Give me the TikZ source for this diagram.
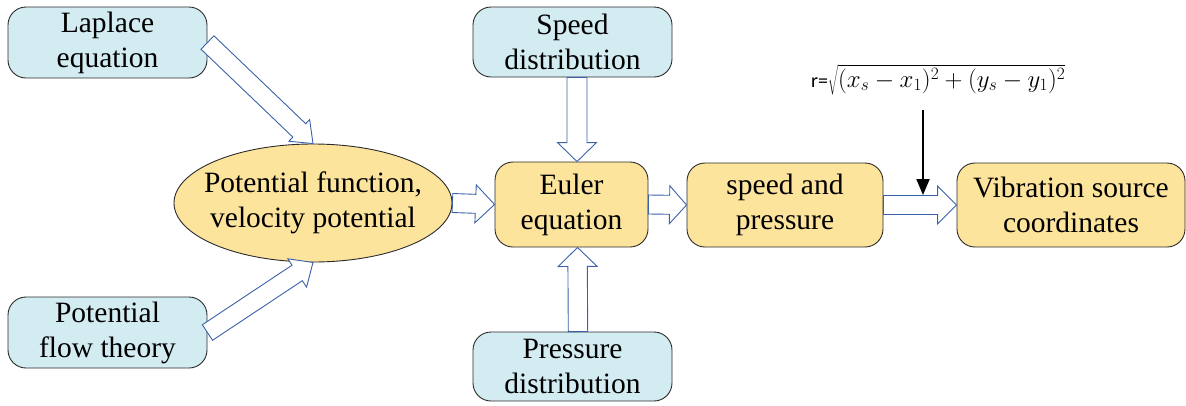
\documentclass[tikz,border=0pt]{standalone}
\usepackage{fontspec}
\setmainfont{Liberation Serif}
\newfontfamily\calib{Carlito}
\usetikzlibrary{calc,arrows.meta,shapes.geometric}
\definecolor{bluefill}{HTML}{D2ECF2}
\definecolor{goldfill}{HTML}{FCE49C}
\definecolor{arrowblue}{HTML}{3B62A8}
\definecolor{edgegray}{HTML}{2B2B2B}
\newcommand{\blockarrow}[5]{%
  \coordinate (ba-s) at (#1);
  \coordinate (ba-e) at (#2);
  \coordinate (ba-h) at ($(ba-e)!#5!(ba-s)$);
  \draw[blockarr] ($(ba-s)!#3!90:(ba-e)$) -- ($(ba-h)!#3!-90:(ba-s)$) -- ($(ba-h)!#4!-90:(ba-s)$) -- (ba-e) -- ($(ba-h)!#4!90:(ba-s)$) -- ($(ba-h)!#3!90:(ba-s)$) -- ($(ba-s)!#3!-90:(ba-e)$) -- cycle;
}
\newcommand{\twolines}[2]{\makebox[0pt][c]{\begin{tabular}{@{}c@{}}#1\\#2\end{tabular}}}
\tikzset{
  txt/.style={font=\fontsize{29.5}{35}\selectfont},
  boxbase/.style={draw=edgegray, line width=0.9pt, rounded corners=18pt, align=center, inner sep=0pt, txt},
  bluebox/.style={boxbase, fill=bluefill, minimum width=199pt, minimum height=71pt},
  goldbox/.style={boxbase, fill=goldfill, minimum height=84pt},
  blockarr/.style={draw=arrowblue, fill=white, line width=0.9pt, line join=miter},
}
\begin{document}
\begin{tikzpicture}[x=1pt,y=-1pt]
\useasboundingbox (0,0) rectangle (1186,405);
% nodes
\node[bluebox] (lap) at (107.5,42.5) {Laplace\\equation};
\node[bluebox] (pft) at (107.5,332.5) {Potential\\flow theory};
\node[bluebox, minimum height=70pt] (spd) at (572.5,42) {Speed\\distribution};
\node[bluebox, minimum height=69pt] (prs) at (572.5,366.5) {Pressure\\distribution};
\node[ellipse, draw=edgegray, line width=0.9pt, fill=goldfill, minimum width=278pt, minimum height=118pt, inner sep=0pt, font=\fontsize{29.5}{35}\selectfont] (ell) at (313,203) {\twolines{Potential function,}{velocity potential}};
\node[goldbox, minimum width=153pt, minimum height=85pt] (eul) at (571.5,204.5) {Euler\\equation};
\node[goldbox, minimum width=196pt] (sap) at (785,205) {speed and\\pressure};
\node[goldbox, minimum width=228pt] (vib) at (1071,205) {Vibration source\\coordinates};
% formula
\node[anchor=base west, inner sep=0pt, font=\fontsize{23.5}{28}\selectfont] (frm) at (811,87) {{\calib\fontsize{20}{24}\selectfont r=}$\sqrt{(x_s-x_1)^2+(y_s-y_1)^2}$};
% connector points
\coordinate (spdout) at ($(spd.south)+(4.5,0)$);
\coordinate (eulin) at ($(eul.north)+(5.5,0)$);
\coordinate (prsout) at ($(prs.north)+(5.5,0)$);
\coordinate (eulbot) at ($(eul.south)+(6,0)$);
% block arrows
\blockarrow{lap.east}{ell.north}{9.3pt}{15pt}{19pt}
\blockarrow{pft.east}{ell.south}{9.3pt}{17pt}{19pt}
\blockarrow{spdout}{eulin}{10pt}{19.5pt}{19pt}
\blockarrow{prsout}{eulbot}{9.7pt}{19.5pt}{19pt}
\blockarrow{ell.east}{eul.west}{9.5pt}{19pt}{19pt}
\blockarrow{eul.east}{sap.west}{9.5pt}{19pt}{17pt}
\blockarrow{sap.east}{vib.west}{9.5pt}{19pt}{19pt}
% black arrow
\coordinate (fs) at (923,110);
\coordinate (fe) at (923,195);
\draw[line width=2pt, -{Triangle[length=16pt,width=13pt]}] (fs) -- (fe);
\end{tikzpicture}
\end{document}
